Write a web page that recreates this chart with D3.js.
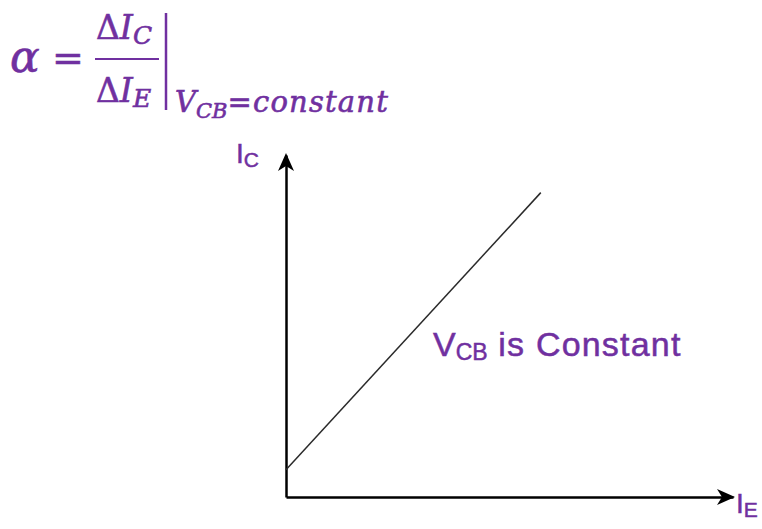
<!DOCTYPE html>
<html lang="en">
<head>
    <meta charset="UTF-8">
    <script src="https://d3js.org/d3.v7.min.js"></script>
    <title>alpha</title>
    <style>
      body { margin: 0; background: #fff; }
      .lbl { font-family: "Liberation Sans", Arial, sans-serif; fill: #7030a0; stroke: #7030a0; stroke-width: 0.5; }
      .math { font-family: "DejaVu Serif", "Liberation Serif", serif; fill: #7030a0; stroke: #7030a0; stroke-width: 0.6; }
    </style>
</head>
<body>
    <div id="container"></div>
</body>
<script>
    // line data (IE on x, IC on y), in arbitrary units 0..10
    var ie_vals = [0, 5.7];
    var ic_vals = [0.8, 8.9];
    var x_domain = [0, 10];
    var y_domain = [0, 10];
    var purple = "#7030a0";

    var svg_width = 762, svg_height = 529;
    var origin = {x: 286, y: 497};

    var x_scale = d3.scaleLinear().domain(x_domain).range([origin.x, 733]);
    var y_scale = d3.scaleLinear().domain(y_domain).range([origin.y, 155]);

    var svg = d3.select("#container").append("svg")
        .attr("width", svg_width).attr("height", svg_height);

    // axes, no ticks
    var x_axis = d3.axisBottom(x_scale).ticks(0).tickSizeOuter(0);
    var y_axis = d3.axisLeft(y_scale).ticks(0).tickSizeOuter(0);
    svg.append("g").attr("transform", `translate(0,${origin.y})`).call(x_axis)
        .select(".domain").attr("stroke", "#000").attr("stroke-width", 2.5);
    svg.append("g").attr("transform", `translate(${origin.x},0)`).call(y_axis)
        .select(".domain").attr("stroke", "#000").attr("stroke-width", 2.5);

    // arrow heads
    var head = "M0,0 L-18,-8 L-13,0 L-18,8 Z";
    svg.append("path").attr("d", head)
        .attr("transform", `translate(${x_scale(x_domain[1]) + 2},${origin.y})`)
        .attr("fill", "#000");
    svg.append("path").attr("d", head)
        .attr("transform", `translate(${origin.x},${y_scale(y_domain[1]) - 2}) rotate(-90)`)
        .attr("fill", "#000");

    // the characteristic line
    var pts = ie_vals.map((v, i) => [v, ic_vals[i]]);
    svg.append("path")
        .datum(pts)
        .attr("d", d3.line().x(d => x_scale(d[0])).y(d => y_scale(d[1])))
        .attr("fill", "none").attr("stroke", "#2a2a2a").attr("stroke-width", 1.5);

    // axis labels
    var ic = svg.append("text").attr("class", "lbl").attr("x", 236).attr("y", 163).attr("font-size", 28);
    ic.append("tspan").text("I");
    ic.append("tspan").attr("font-size", 21).attr("dy", 4).text("C");

    var ie = svg.append("text").attr("class", "lbl").attr("x", 736).attr("y", 513).attr("font-size", 28);
    ie.append("tspan").text("I");
    ie.append("tspan").attr("font-size", 21).attr("dy", 4).text("E");

    var note = svg.append("text").attr("class", "lbl").attr("x", 433).attr("y", 356).attr("font-size", 34);
    note.append("tspan").text("V");
    note.append("tspan").attr("font-size", 23).attr("dy", 4).text("CB");
    note.append("tspan").attr("dy", -4).attr("letter-spacing", 1.2).text(" is Constant");

    // formula
    var f = svg.append("g");
    f.append("text").attr("class", "math").attr("x", 10).attr("y", 72)
        .attr("font-size", 44).attr("font-style", "italic").text("α");
    f.append("text").attr("class", "math").attr("x", 52).attr("y", 71)
        .attr("font-size", 38).text("=");
    var num = f.append("text").attr("class", "math").attr("x", 96).attr("y", 39).attr("font-size", 33);
    num.append("tspan").text("Δ");
    num.append("tspan").attr("font-style", "italic").text("I");
    num.append("tspan").attr("font-style", "italic").attr("font-size", 25).attr("dy", 5).text("C");
    f.append("line").attr("x1", 95).attr("x2", 159).attr("y1", 59).attr("y2", 59)
        .attr("stroke", purple).attr("stroke-width", 2);
    var den = f.append("text").attr("class", "math").attr("x", 96).attr("y", 102).attr("font-size", 33);
    den.append("tspan").text("Δ");
    den.append("tspan").attr("font-style", "italic").text("I");
    den.append("tspan").attr("font-style", "italic").attr("font-size", 25).attr("dy", 5).text("E");
    f.append("line").attr("x1", 166).attr("x2", 166).attr("y1", 13).attr("y2", 110)
        .attr("stroke", purple).attr("stroke-width", 2.5);
    var sub = f.append("text").attr("class", "math").attr("x", 175).attr("y", 112)
        .attr("font-size", 29).attr("font-style", "italic");
    sub.append("tspan").text("V");
    sub.append("tspan").attr("font-size", 21).attr("dy", 6).text("CB");
    sub.append("tspan").attr("dy", -6).attr("letter-spacing", 1.2).text("=constant");
</script>
</html>
